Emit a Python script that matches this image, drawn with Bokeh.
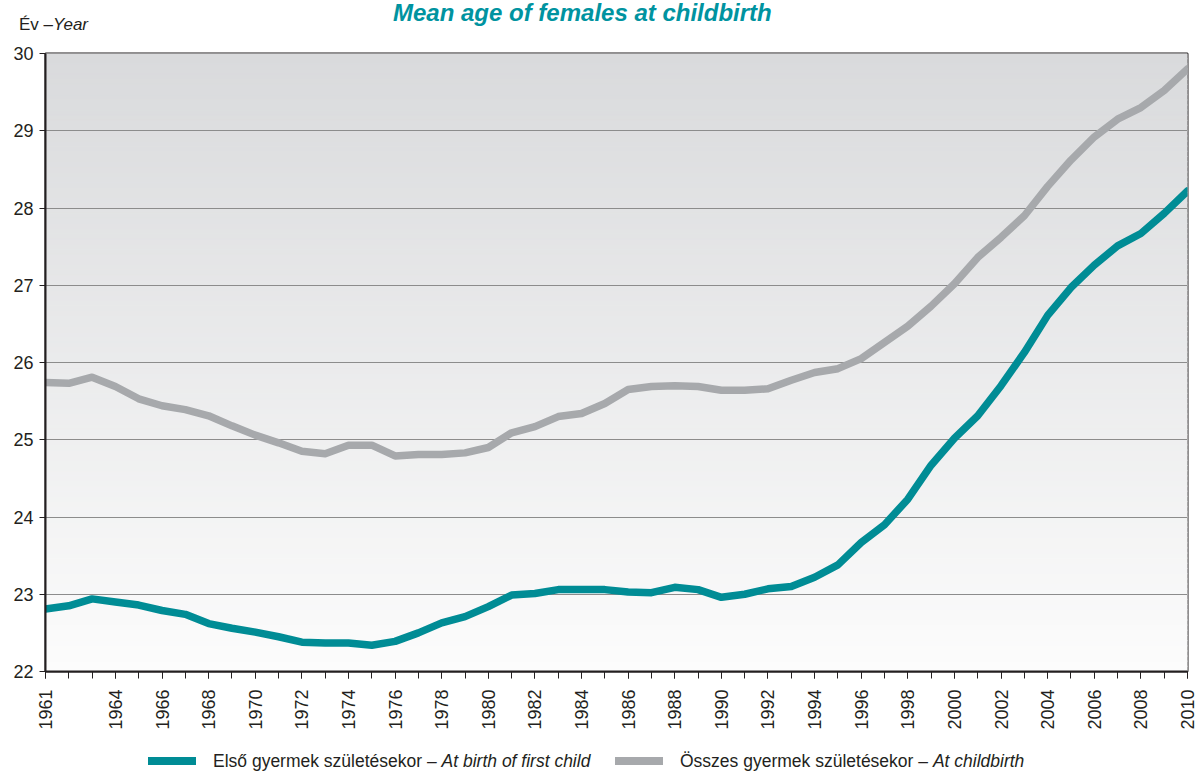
import numpy as np
from bokeh.plotting import figure
from bokeh.models import Range1d, FixedTicker, Div
from bokeh.layouts import column
from bokeh.embed import file_html
from bokeh.resources import INLINE

# ---------------- data ----------------
years = list(range(1961, 2011))
first_child = [22.81, 22.85, 22.94, 22.90, 22.86, 22.79, 22.74, 22.62, 22.56, 22.51,
               22.45, 22.38, 22.37, 22.37, 22.34, 22.39, 22.50, 22.63, 22.71, 22.84,
               22.99, 23.01, 23.06, 23.06, 23.06, 23.03, 23.02, 23.09, 23.06, 22.96,
               23.00, 23.07, 23.10, 23.22, 23.38, 23.67, 23.90, 24.23, 24.67, 25.02,
               25.31, 25.70, 26.13, 26.61, 26.97, 27.26, 27.51, 27.67, 27.93, 28.22]
all_births = [25.74, 25.73, 25.81, 25.69, 25.53, 25.44, 25.39, 25.31, 25.18, 25.06,
              24.96, 24.85, 24.82, 24.93, 24.93, 24.79, 24.81, 24.81, 24.83, 24.90,
              25.09, 25.17, 25.30, 25.34, 25.47, 25.65, 25.69, 25.70, 25.69, 25.64,
              25.64, 25.66, 25.77, 25.87, 25.92, 26.05, 26.26, 26.47, 26.73, 27.02,
              27.36, 27.62, 27.90, 28.28, 28.62, 28.92, 29.15, 29.30, 29.52, 29.80]
tick_years = [1961, 1964] + list(range(1966, 2011, 2))
y_ticks = list(range(22, 31))

title_text = "Mean age of females at childbirth"
ylab_hu = "Év –"
ylab_en = "Year"
leg1_hu = "Első gyermek születésekor –"
leg1_en = "At birth of first child"
leg2_hu = "Összes gyermek születésekor –"
leg2_en = "At childbirth"

TEAL = "#008C95"
GRAY = "#A7A9AC"
TXT = "#231F20"
SANS = "Liberation Sans"

# ---------------- header (title + y unit) ----------------
header = Div(width=1200, height=38, margin=0, text=f"""
<div style="position:relative;width:1200px;height:38px;font-family:'Liberation Sans';color:{TXT};">
  <span style="position:absolute;left:393px;top:0px;font-size:24px;line-height:26px;font-weight:bold;
               font-style:italic;color:#0093A0;white-space:nowrap;">{title_text}</span>
  <span style="position:absolute;left:19px;top:15px;font-size:17px;line-height:20px;
               white-space:nowrap;">{ylab_hu}<i>{ylab_en}</i></span>
</div>""")

# ---------------- figure ----------------
p = figure(width=1200, height=702, output_backend="svg", toolbar_location=None,
           title=None, margin=0,
           x_range=Range1d(years[0], years[-1]), y_range=Range1d(y_ticks[0], y_ticks[-1]),
           min_border_left=45, min_border_right=13, min_border_top=15, min_border_bottom=69)
p.background_fill_color = "white"
p.border_fill_color = "white"
p.outline_line_color = TXT
p.outline_line_width = 2

# background gradient of the plot area (styling only)
n = 120
edges = np.linspace(y_ticks[0], y_ticks[-1], n + 1)
top_c = np.array([0xD9, 0xDA, 0xDC], dtype=float)
bot_c = np.array([0xFC, 0xFC, 0xFC], dtype=float)
cols = []
for i in range(n):
    t = (i + 0.5) / n
    c = bot_c + (top_c - bot_c) * t
    cols.append("#%02x%02x%02x" % tuple(int(round(v)) for v in c))
p.quad(left=years[0], right=years[-1], bottom=edges[:-1], top=edges[1:],
       fill_color=cols, line_color=cols, line_width=1, level="image")

# grid
p.xgrid.visible = False
p.ygrid.ticker = FixedTicker(ticks=y_ticks)
p.ygrid.grid_line_color = "#8C8C8C"
p.ygrid.grid_line_width = 1

# lines
p.line(years, all_births, line_color=GRAY, line_width=7.5,
       line_join="round", line_cap="round")
p.line(years, first_child, line_color=TEAL, line_width=7.5,
       line_join="round", line_cap="round")

# axes
p.yaxis.ticker = FixedTicker(ticks=y_ticks)
p.yaxis.major_tick_in = 0
p.yaxis.major_tick_out = 6
p.yaxis.minor_tick_line_color = None
p.yaxis.axis_line_width = 2
p.yaxis.axis_line_color = TXT
p.yaxis.major_tick_line_color = TXT
p.yaxis.major_label_standoff = 6
p.yaxis.major_label_text_font = SANS
p.yaxis.major_label_text_font_size = "18px"
p.yaxis.major_label_text_color = TXT

p.xaxis.ticker = FixedTicker(ticks=tick_years, minor_ticks=years)
p.xaxis.major_label_orientation = np.pi / 2
p.xaxis.major_tick_in = 0
p.xaxis.major_tick_out = 7
p.xaxis.minor_tick_in = 0
p.xaxis.minor_tick_out = 7
p.xaxis.minor_tick_line_color = TXT
p.xaxis.major_tick_line_color = TXT
p.xaxis.axis_line_width = 2
p.xaxis.axis_line_color = TXT
p.xaxis.major_label_standoff = 11
p.xaxis.major_label_text_font = SANS
p.xaxis.major_label_text_font_size = "18px"
p.xaxis.major_label_text_color = TXT

# ---------------- legend ----------------
legend = Div(width=1200, height=32, margin=0, text=f"""
<div style="position:relative;width:1200px;height:32px;font-family:'Liberation Sans';color:{TXT};">
  <span style="position:absolute;left:148px;top:17px;width:48px;height:8px;background:{TEAL};"></span>
  <span style="position:absolute;left:213px;top:11px;font-size:17.5px;line-height:20px;
               white-space:nowrap;">{leg1_hu} <i>{leg1_en}</i></span>
  <span style="position:absolute;left:615px;top:17px;width:48px;height:8px;background:{GRAY};"></span>
  <span style="position:absolute;left:680px;top:11px;font-size:17.5px;line-height:20px;
               white-space:nowrap;">{leg2_hu} <i>{leg2_en}</i></span>
</div>""")

layout = column(header, p, legend, spacing=0, margin=0)
open("out.html", "w").write(file_html(layout, INLINE))
